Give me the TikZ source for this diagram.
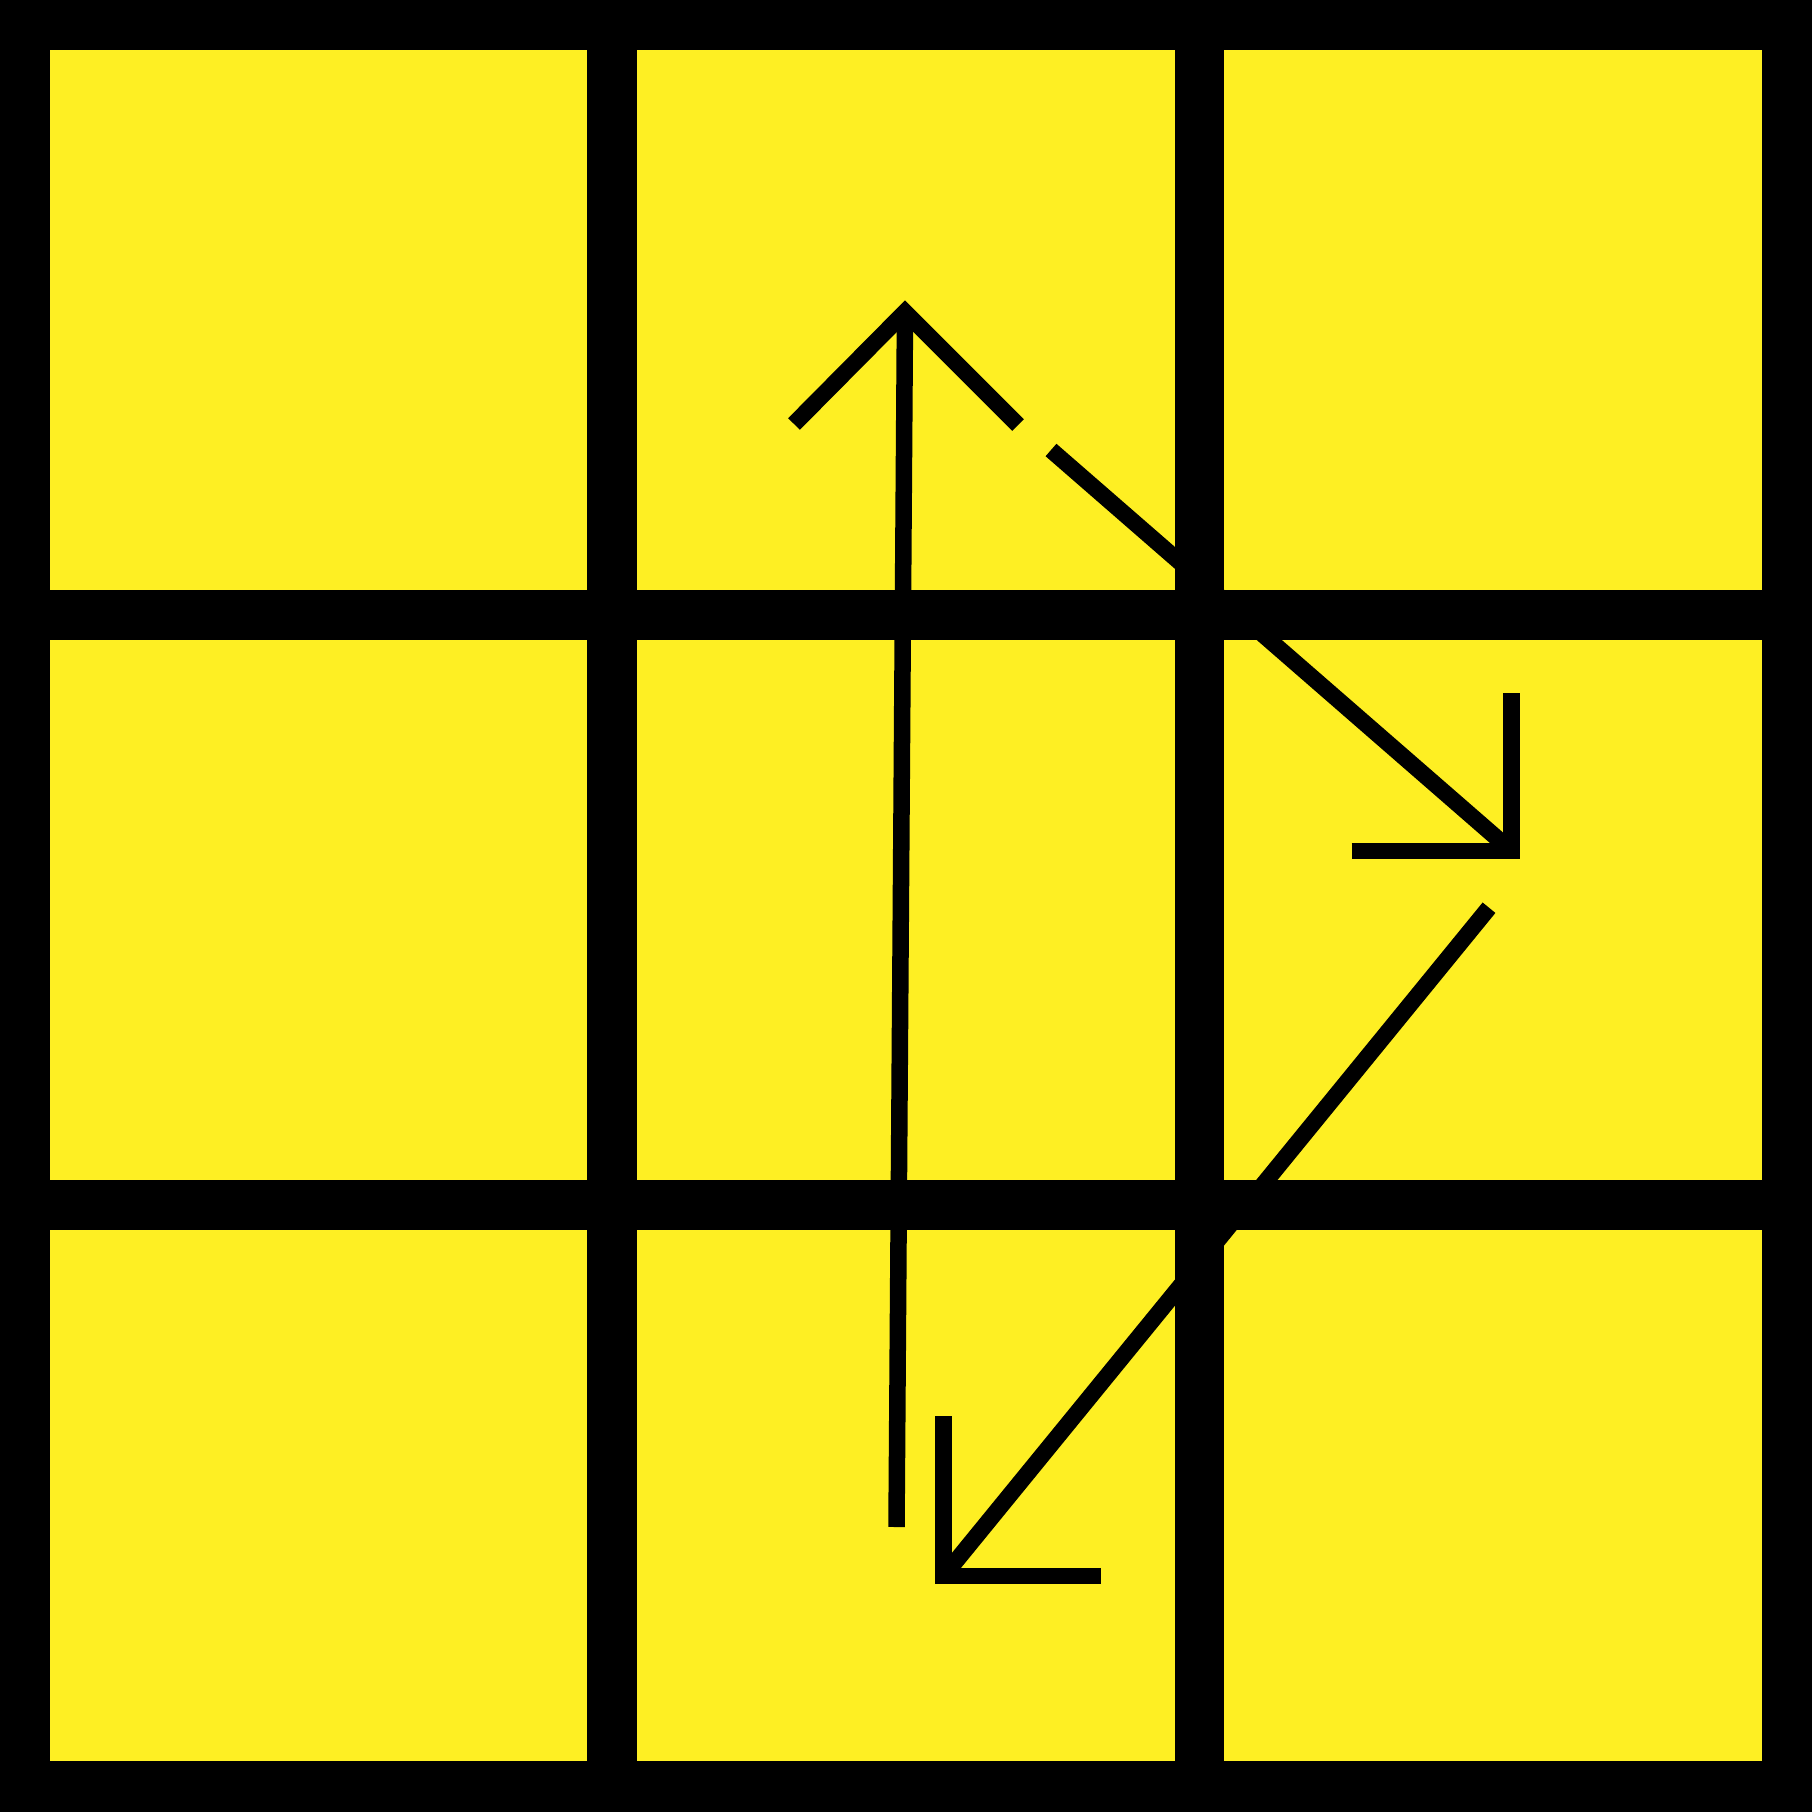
\documentclass[tikz,border=0pt]{standalone}
\definecolor{cellyellow}{RGB}{254,239,35}
\begin{document}
\begin{tikzpicture}[x=0.01cm,y=-0.01cm,
  cell/.style={fill=cellyellow,draw=none},
  stroke/.style={draw=black,line width=16.5*0.2845pt,line cap=butt,line join=miter}]
\fill[black] (0,0) rectangle (1812,1812);
\useasboundingbox (0,0) rectangle (1812,1812);
% cells
\foreach \xa/\xb in {50/587,637/1175,1224/1762}{
  \foreach \ya/\yb in {50/590,640/1180,1230/1761}{
    \path[cell] (\xa,\ya) rectangle (\xb,\yb);
  }
}
% coordinates
\coordinate (apex) at (905,312);
\coordinate (chL) at (794,424);
\coordinate (chR) at (1018,425);
\coordinate (shaftBot) at (896.5,1527);
\coordinate (d1s) at (1051,450);
\coordinate (d1c) at (1511.7,851);
\coordinate (d1h) at (1351.7,851);
\coordinate (d1v) at (1511.7,693.3);
\coordinate (d2s) at (1489,907.7);
\coordinate (d2c) at (943.7,1576);
\coordinate (d2v) at (943.7,1416);
\coordinate (d2h) at (1101,1576);
% up arrow
\draw[stroke] (shaftBot) -- (apex);
\draw[stroke] (chL) -- (apex) -- (chR);
% down-right arrow
\draw[stroke] (d1s) -- (d1c);
\draw[stroke] (d1h) -- (d1c) -- (d1v);
% down-left arrow
\draw[stroke] (d2s) -- (d2c);
\draw[stroke] (d2v) -- (d2c) -- (d2h);
\end{tikzpicture}
\end{document}
